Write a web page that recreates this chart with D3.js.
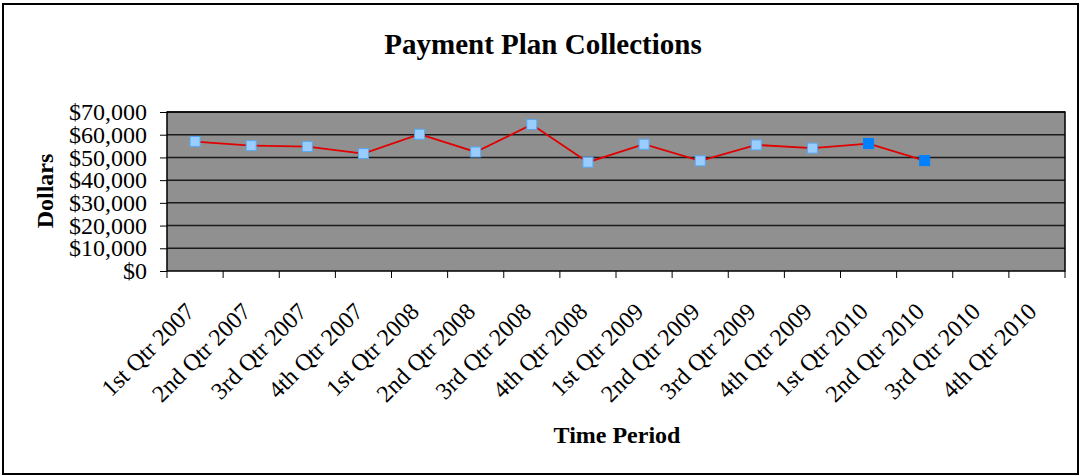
<!DOCTYPE html>
<html><head><meta charset="utf-8">
<script src="https://cdn.jsdelivr.net/npm/d3@7"></script>
<style>body{margin:0;background:#fff}svg{display:block}text{font-family:"Liberation Serif","Times New Roman",serif}</style>
</head><body>
<script>
const categories = ["1st Qtr 2007","2nd Qtr 2007","3rd Qtr 2007","4th Qtr 2007","1st Qtr 2008","2nd Qtr 2008","3rd Qtr 2008","4th Qtr 2008","1st Qtr 2009","2nd Qtr 2009","3rd Qtr 2009","4th Qtr 2009","1st Qtr 2010","2nd Qtr 2010","3rd Qtr 2010","4th Qtr 2010"];
const values = [57000,55200,54800,51700,60200,52400,64500,47900,55800,48500,55500,54100,56100,48600,null,null];
const highlighted = [false,false,false,false,false,false,false,false,false,false,false,false,true,true,false,false];
const yTicks = [0,10000,20000,30000,40000,50000,60000,70000];

const W=1081,H=476;
const svg=d3.select("body").append("svg").attr("width",W).attr("height",H);
svg.append("rect").attr("x",3).attr("y",4).attr("width",1075).attr("height",470).attr("fill","#fff").attr("stroke","#000").attr("stroke-width",2);

const L=167,R=1065,T=112,B=271;
const x=d3.scaleBand().domain(categories).range([L,R]);
const y=d3.scaleLinear().domain([0,70000]).range([B,T]);

svg.append("rect").attr("x",L).attr("y",T).attr("width",R-L).attr("height",B-T).attr("fill","#909090");
svg.append("g").selectAll("line").data(yTicks.slice(1)).join("line")
 .attr("x1",L).attr("x2",R).attr("y1",d=>y(d)).attr("y2",d=>y(d)).attr("stroke","#1a1a1a").attr("stroke-width",1.5);
svg.append("rect").attr("x",L).attr("y",T).attr("width",R-L).attr("height",B-T).attr("fill","none").attr("stroke","#000").attr("stroke-width",1.5);

const fmt=d=>"$"+d3.format(",")(d);
const ya=svg.append("g").attr("transform",`translate(${L},0)`).call(d3.axisLeft(y).tickValues(yTicks).tickFormat(fmt).tickSize(7).tickSizeOuter(0));
ya.select(".domain").remove();
ya.selectAll("line").attr("stroke","#000");
ya.selectAll("text").attr("font-size",24).attr("fill","#000").attr("x",-20).attr("dy","0.32em");

// x ticks at band boundaries
const bounds=categories.map(c=>x(c)).concat([R]);
svg.append("g").selectAll("line").data(bounds).join("line")
 .attr("x1",d=>d).attr("x2",d=>d).attr("y1",B).attr("y2",B+7).attr("stroke","#000").attr("stroke-width",1);
svg.append("g").selectAll("text").data(categories).join("text")
 .attr("transform",d=>`translate(${x(d)+x.bandwidth()/2+1},${B+42}) rotate(-45)`)
 .attr("text-anchor","end").attr("font-size",24).attr("fill","#000").text(d=>d);

const pts=categories.map((c,i)=>({c,v:values[i],h:highlighted[i]})).filter(d=>d.v!=null);
const cx=d=>x(d.c)+x.bandwidth()/2;
svg.append("path").datum(pts).attr("fill","none").attr("stroke","#e00000").attr("stroke-width",1.8)
 .attr("d",d3.line().x(cx).y(d=>y(d.v)));
svg.append("g").selectAll("rect").data(pts).join("rect")
 .attr("x",d=>cx(d)-5).attr("y",d=>y(d.v)-5).attr("width",10).attr("height",10)
 .attr("fill",d=>d.h?"#0080ff":"#99ccff").attr("stroke",d=>d.h?"#0080ff":"#5aa8f0").attr("stroke-width",1);

svg.append("text").attr("x",543).attr("y",54).attr("text-anchor","middle").attr("font-size",29).attr("font-weight","bold").text("Payment Plan Collections");
svg.append("text").attr("x",617).attr("y",443).attr("text-anchor","middle").attr("font-size",24).attr("font-weight","bold").text("Time Period");
svg.append("text").attr("transform","translate(53,191) rotate(-90)").attr("text-anchor","middle").attr("font-size",24).attr("font-weight","bold").text("Dollars");
</script>
</body></html>
